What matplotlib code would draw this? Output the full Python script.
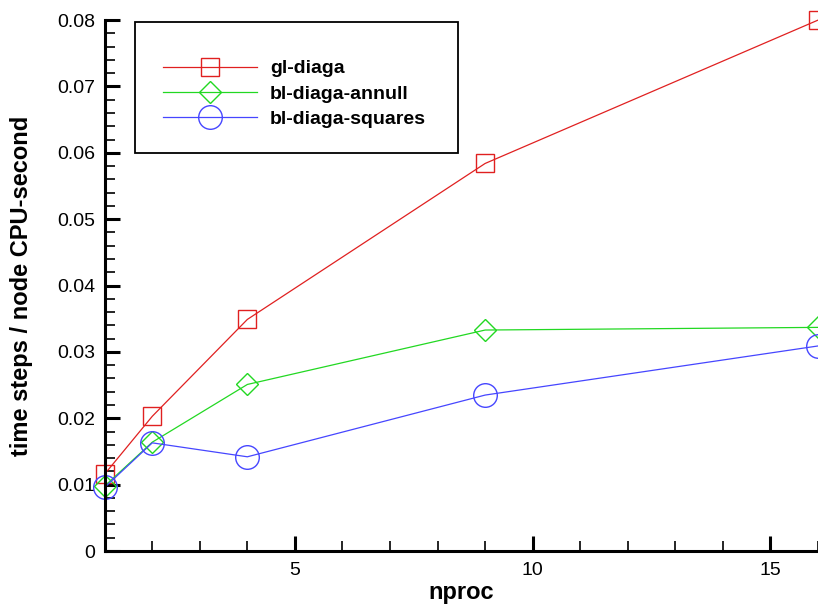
import matplotlib
matplotlib.use("Agg")
import matplotlib.pyplot as plt
from matplotlib.ticker import MultipleLocator, FuncFormatter
from matplotlib.patches import Rectangle

plt.rcParams['font.family'] = ['Liberation Sans', 'DejaVu Sans']

nproc = [1, 2, 4, 9, 16]
gl_diaga = [0.0116, 0.0203, 0.0349, 0.0584, 0.0800]
bl_diaga_annull = [0.0098, 0.0164, 0.0251, 0.0333, 0.0337]
bl_diaga_squares = [0.0096, 0.0163, 0.0142, 0.0235, 0.0309]

series = [
    ("gl-diaga", gl_diaga, "#e02020", "s", 13),
    ("bl-diaga-annull", bl_diaga_annull, "#22d822", "D", 11),
    ("bl-diaga-squares", bl_diaga_squares, "#4646ff", "o", 17),
]

fig = plt.figure(figsize=(8.18, 6.04), dpi=100)
ax = fig.add_axes([0.128, 0.0877, 0.872, 0.879])

for label, vals, col, mk, ms in series:
    ax.plot(nproc, vals, color=col, lw=0.9, marker=mk, ms=ms,
            mfc='none', mec=col, mew=1.0, label=label, clip_on=False)

ax.set_xlim(1, 16)
ax.set_ylim(0, 0.08)
ax.xaxis.set_major_locator(MultipleLocator(5))
ax.xaxis.set_minor_locator(MultipleLocator(1))
ax.yaxis.set_major_locator(MultipleLocator(0.01))
ax.yaxis.set_minor_locator(MultipleLocator(0.002))
ax.yaxis.set_major_formatter(FuncFormatter(lambda v, p: '0' if abs(v) < 1e-9 else f'{v:.2f}'))

for s in ['top', 'right']:
    ax.spines[s].set_visible(False)
for s in ['left', 'bottom']:
    ax.spines[s].set_linewidth(2.2)

ax.tick_params(which='major', direction='in', length=11, width=2.2, labelsize=14, color='black')
ax.tick_params(which='minor', direction='in', length=7, width=1.2)
ax.tick_params(axis='y', which='major', pad=7)
ax.tick_params(axis='x', which='major', pad=8)

ax.set_xlabel('nproc', fontsize=17, fontweight='bold', va='top')
ax.xaxis.set_label_coords(0.5, -0.056)
ax.set_ylabel('time steps / node CPU-second', fontsize=17, fontweight='bold')
ax.yaxis.set_label_coords(-0.101, 0.5)

# legend frame drawn separately so the box can be sized freely
ax.add_patch(Rectangle((0.042, 0.75), 0.453, 0.246, transform=ax.transAxes,
                       fill=False, ec='black', lw=1.3, clip_on=False, zorder=5))
ax.legend(loc='center', bbox_to_anchor=(0.266, 0.861), frameon=False,
          prop={'size': 14, 'weight': 'bold'}, handlelength=4.85,
          handletextpad=0.67, labelspacing=0.4, numpoints=1)

fig.savefig('out.png', dpi=100)
